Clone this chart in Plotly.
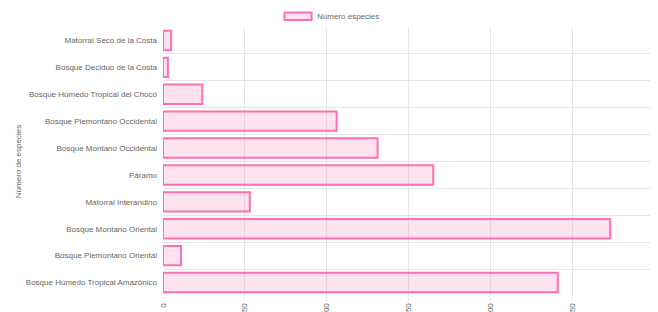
import plotly.graph_objects as go

categories = [
    "Matorral Seco de la Costa",
    "Bosque Deciduo de la Costa",
    "Bosque Húmedo Tropical del Chocó",
    "Bosque Piemontano Occidental",
    "Bosque Montano Occidental",
    "Páramo",
    "Matorral Interandino",
    "Bosque Montano Oriental",
    "Bosque Piemontano Oriental",
    "Bosque Húmedo Tropical Amazónico",
]
species_counts = [5, 3, 24, 106, 131, 165, 53, 273, 11, 241]
series_name = "Número especies"
axis_title = "Número de especies"
x_ticks = [0, 50, 100, 150, 200, 250, 300]

FONT = "Liberation Sans, Arial, Helvetica, sans-serif"
LINE = "rgb(255,110,180)"
FILL = "rgba(255,110,180,0.2)"
GRID = "#e5e5e5"

# page has an 8px body margin; figure is sized so it ends at the window edge
fig = go.Figure()
fig.add_trace(go.Bar(
    y=categories, x=species_counts, orientation="h", name=series_name,
    marker=dict(color=FILL, line=dict(color=LINE, width=2)),
    showlegend=False,
))

fig.update_layout(
    width=650, height=304,
    margin=dict(l=155, r=2, t=19, b=16, autoexpand=False),
    paper_bgcolor="white", plot_bgcolor="white",
    bargap=0.28,
    font=dict(family=FONT, size=8, color="#666"),
    xaxis=dict(
        range=[0, 301], tickvals=x_ticks, ticktext=[str(v) for v in x_ticks],
        tickangle=-90, showgrid=True, gridcolor=GRID, gridwidth=1,
        zeroline=False, showline=False, ticks="outside", ticklen=4,
        tickcolor=GRID, tickwidth=1, ticklabelstandoff=-1, automargin=False,
        ticklabeloverflow="allow",
        tickfont=dict(size=8, color="#666"),
    ),
    yaxis=dict(
        type="category", autorange="reversed", tickson="boundaries",
        showgrid=True, gridcolor=GRID, gridwidth=1,
        ticks="", showline=False, automargin=False, ticklabelstandoff=5,
        tickfont=dict(size=8, color="#666"),
        title=dict(text=axis_title, font=dict(size=8, color="#666"), standoff=3),
    ),
    shapes=[dict(
        type="rect", xref="paper", yref="paper",
        x0=(284.5 - 163) / 493, x1=(311.5 - 163) / 493,
        y0=1 + (27 - 20) / 269, y1=1 + (27 - 12.5) / 269,
        fillcolor=FILL, line=dict(color=LINE, width=2),
    )],
    annotations=[dict(
        text=series_name, xref="paper", yref="paper",
        x=(315 - 163) / 493, y=1 + (27 - 16.3) / 269,
        xanchor="left", yanchor="middle", showarrow=False,
        font=dict(size=8, color="#666"),
    ),
    ],
)

fig.write_html("out.html")
